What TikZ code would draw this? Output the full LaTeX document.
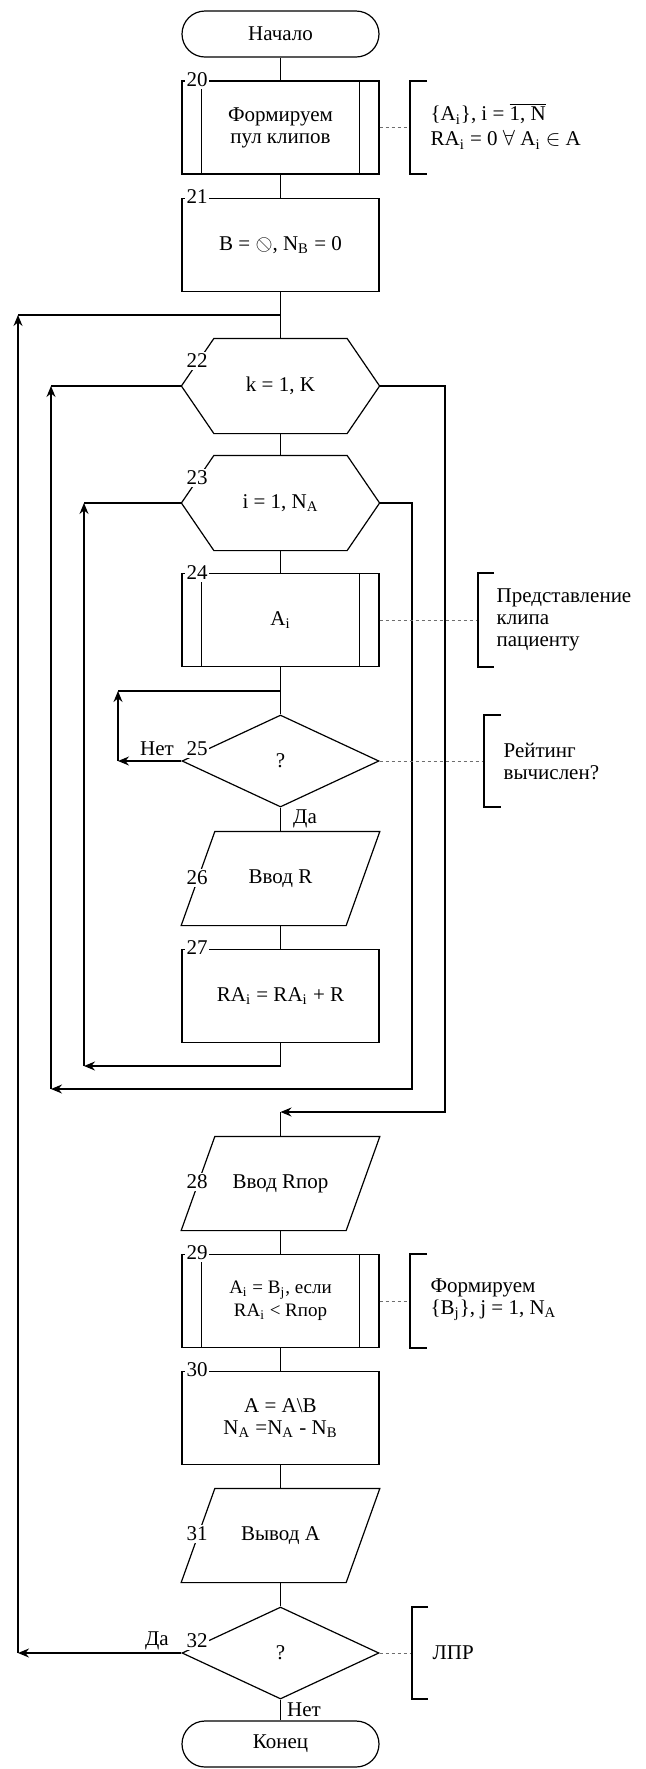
\documentclass[tikz,border=0pt]{standalone}
\usepackage{fontspec}
\setmainfont{Liberation Serif}
\usetikzlibrary{arrows.meta,shapes.geometric,calc}
\definecolor{notegray}{RGB}{110,110,110}

\begin{document}
\begin{tikzpicture}[x=0.5pt,y=-0.5pt,line width=0.6pt,
  every node/.style={font=\fontsize{10.5}{11}\selectfont},
  blk/.style={draw,rectangle,minimum width=98.5pt,minimum height=46.5pt,inner sep=0pt,align=center},
  term/.style={draw,rectangle,rounded corners=11.5pt,minimum width=98.5pt,minimum height=23pt,inner sep=0pt},
  hexa/.style={rectangle,minimum width=98.5pt,minimum height=47pt,inner sep=0pt},
  dia/.style={draw,diamond,minimum width=98.5pt,minimum height=46pt,inner sep=0pt},
  para/.style={rectangle,minimum width=98.75pt,minimum height=46.5pt,inner sep=0pt},
  num/.style={fill=white,inner sep=0.8pt},
  note/.style={anchor=west,align=left,inner sep=0pt},
  arr/.style={-{Stealth[length=5.5pt,width=4.5pt]}},
  dots/.style={notegray,dash pattern=on 1.5pt off 1.5pt,line width=0.5pt}]
\useasboundingbox (0,0) rectangle (645,1769);
% main column
\node[term] (start) at (280.5,34) {Начало};
\node[blk] (b20) at (280.5,127.5) {Формируем\\пул клипов};
\node[blk] (b21) at (280.5,245) {B = \reflectbox{$\oslash$}, N\textsubscript{B} = 0};
\node[hexa] (h22) at (280.5,386) {k = 1, K};
\node[hexa] (h23) at (280.5,503) {i = 1, N\textsubscript{A}};
\node[blk] (b24) at (280.5,620) {A\textsubscript{i}};
\node[dia] (d25) at (280.5,761) {?};
\node[para] (p26) at (280.5,878.5) {Ввод R};
\node[blk] (b27) at (280.5,996) {RA\textsubscript{i} = RA\textsubscript{i} + R};
\node[para] (p28) at (280.5,1183.5) {Ввод Rпор};
\node[blk,font=\fontsize{9.5}{11.5}\selectfont] (b29) at (280.5,1301) {A\textsubscript{i} = B\textsubscript{j}, если\\RA\textsubscript{i} < Rпор};
\node[blk] (b30) at (280.5,1418) {A = A\textbackslash B\\N\textsubscript{A} =N\textsubscript{A} - N\textsubscript{B}};
\node[para] (p31) at (280.5,1535.5) {Вывод A};
\node[dia] (d32) at (280.5,1653) {?};
\node[term] (stop) at (280.5,1744) {Конец};
\foreach \n in {b20,b24,b29}{
  \draw ([xshift=10pt]\n.north west) -- ([xshift=10pt]\n.south west);
  \draw ([xshift=-10pt]\n.north east) -- ([xshift=-10pt]\n.south east);
}
\foreach \n in {h22,h23}
  \draw (\n.west) -- ([xshift=16.25pt]\n.north west) -- ([xshift=-16.25pt]\n.north east)
    -- (\n.east) -- ([xshift=-16.25pt]\n.south east) -- ([xshift=16.25pt]\n.south west) -- cycle;
\foreach \n in {p26,p28,p31}
  \draw (\n.south west) -- ([xshift=16.85pt]\n.north west) -- (\n.north east)
    -- ([xshift=-16.85pt]\n.south east) -- cycle;
% bends
\coordinate (j1) at (280.5,315);
\coordinate (j2) at (280.5,691);
\coordinate (li1) at (280.5,1066);
\coordinate (li2) at (84,1066);
\coordinate (li3) at (84,503);
\coordinate (lk1) at (412,503);
\coordinate (lk2) at (412,1089);
\coordinate (lk3) at (51,1089);
\coordinate (lk4) at (51,386);
\coordinate (lx1) at (445,386);
\coordinate (lx2) at (445,1112);
\coordinate (lx3) at (280.5,1112);
\coordinate (lr1) at (118,761);
\coordinate (lr2) at (118,691);
\coordinate (lo1) at (18,1653);
\coordinate (lo2) at (18,315);
% flow
\draw (start) -- (b20);
\draw (b20) -- (b21);
\draw (b21) -- (j1) -- (h22);
\draw (h22) -- (h23);
\draw (h23) -- (b24);
\draw (b24) -- (j2) -- (d25);
\draw (d25) -- (p26);
\draw (p26) -- (b27);
\draw[arr] (b27) -- (li1) -- (li2);
\draw[arr] (li2) -- (li3);
\draw (li3) -- (h23);
\draw[arr] (h23) -- (lk1) -- (lk2) -- (lk3);
\draw[arr] (lk3) -- (lk4);
\draw (lk4) -- (h22);
\draw[arr] (h22) -- (lx1) -- (lx2) -- (lx3);
\draw (lx3) -- (p28);
\draw[arr] (d25) -- (lr1);
\draw[arr] (lr1) -- (lr2);
\draw (lr2) -- (j2);
\draw (p28) -- (b29);
\draw (b29) -- (b30);
\draw (b30) -- (p31);
\draw (p31) -- (d32);
\draw (d32) -- (stop);
\draw[arr] (d32) -- (lo1);
\draw[arr] (lo1) -- (lo2);
\draw (lo2) -- (j1);
% numbers
\node[num] (n20) at (197,80) {20};
\node[num] (n21) at (197,197) {21};
\node[num] (n22) at (197,361) {22};
\node[num] (n23) at (197,478) {23};
\node[num] (n24) at (197,573) {24};
\node[num] (n25) at (197,749) {25};
\node[num] (n26) at (197,878) {26};
\node[num] (n27) at (197,948) {27};
\node[num] (n28) at (197,1182) {28};
\node[num] (n29) at (197,1253) {29};
\node[num] (n30) at (197,1370) {30};
\node[num] (n31) at (197,1534) {31};
\node[num] (n32) at (197,1641) {32};
\node (no25) at (157,749) {Нет};
\node (yes25) at (305,819) {Да};
\node (yes32) at (157,1641) {Да};
\node (no32) at (304,1710) {Нет};
% notes
\coordinate (k20) at (410,127.5);
\coordinate (k24) at (478,620);
\coordinate (k25) at (484,761);
\coordinate (k29) at (410,1301);
\coordinate (k32) at (412,1653);
\draw[dots] (b20) -- (k20);
\draw[dots] (b24) -- (k24);
\draw[dots] (d25) -- (k25);
\draw[dots] (b29) -- (k29);
\draw[dots] (d32) -- (k32);
\draw (427,81) -- (410,81) -- (410,174) -- (427,174);
\draw (494,573) -- (478,573) -- (478,667) -- (494,667);
\draw (501,715) -- (484,715) -- (484,807) -- (501,807);
\draw (427,1254) -- (410,1254) -- (410,1348) -- (427,1348);
\draw (428,1607) -- (412,1607) -- (412,1699) -- (428,1699);
\node[note] (t20) at (430,126) {\{A\textsubscript{i}\}, i = $\overline{\mbox{1, N}}$\\[1.5pt]RA\textsubscript{i} = 0 $\forall$ A\textsubscript{i} $\in$ A};
\node[note] (t24) at (496,620) {Представление\\клипа\\пациенту};
\node[note] (t25) at (503,761) {Рейтинг\\вычислен?};
\node[note] (t29) at (430,1300) {Формируем\\\{B\textsubscript{j}\}, j = 1, N\textsubscript{A}};
\node[note] (t32) at (432,1653) {ЛПР};
\end{tikzpicture}
\end{document}
